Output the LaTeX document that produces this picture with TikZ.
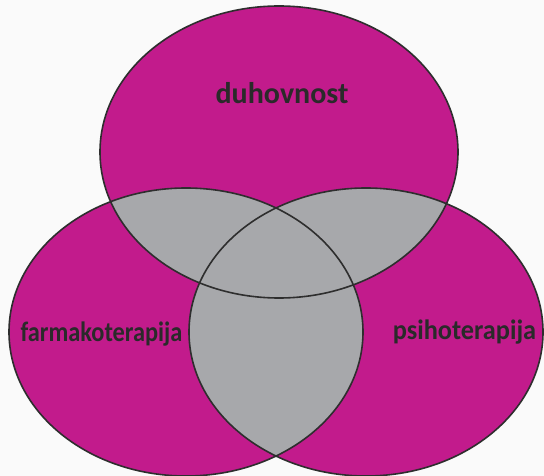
\documentclass[tikz,border=0pt]{standalone}
\usepackage{graphicx}
\usepackage{fontspec}
\setmainfont{Carlito}
\definecolor{mag}{HTML}{C21B8C}
\definecolor{ovl}{HTML}{A7A8AB}
\definecolor{edgec}{HTML}{2E2E2E}
\definecolor{bgc}{HTML}{FAFAFA}
\definecolor{txt}{HTML}{2A2A2A}
\tikzset{
  setfill/.style={fill=mag},
  overlapfill/.style={fill=ovl},
  setedge/.style={draw=edgec, line width=1.6pt},
  lbl/.style={text=txt, anchor=base, inner sep=0pt, font=\bfseries\fontsize{30}{36}\selectfont},
  sidelbl/.style={text=txt, anchor=base, inner sep=0pt, font=\bfseries\fontsize{28}{34}\selectfont}
}
\begin{document}
\begin{tikzpicture}[x=1pt,y=-1pt]
\useasboundingbox (0,0) rectangle (544,476);
\fill[bgc] (0,0) rectangle (544,476);
\begin{scope}
\clip (0,0) rectangle (544,476);
% sets
\fill[setfill] (279,152) ellipse [x radius=179, y radius=146];
\fill[setfill] (186,332) ellipse [x radius=177, y radius=144];
\fill[setfill] (366,332) ellipse [x radius=177, y radius=144];
% overlaps
\begin{scope}
  \clip (279,152) ellipse [x radius=179, y radius=146];
  \fill[overlapfill] (186,332) ellipse [x radius=177, y radius=144];
  \fill[overlapfill] (366,332) ellipse [x radius=177, y radius=144];
\end{scope}
\begin{scope}
  \clip (186,332) ellipse [x radius=177, y radius=144];
  \fill[overlapfill] (366,332) ellipse [x radius=177, y radius=144];
\end{scope}
% outlines
\draw[setedge] (279,152) ellipse [x radius=179, y radius=146];
\draw[setedge] (186,332) ellipse [x radius=177, y radius=144];
\draw[setedge] (366,332) ellipse [x radius=177, y radius=144];
\end{scope}
% labels
\node[lbl] (duh) at (282,104) {duhovnost};
\node[sidelbl] (farm) at (101.5,341) {\scalebox{0.87}[1]{farmakoterapija}};
\node[sidelbl] (psih) at (464.5,339) {\scalebox{0.94}[1]{psihoterapija}};
\end{tikzpicture}
\end{document}
